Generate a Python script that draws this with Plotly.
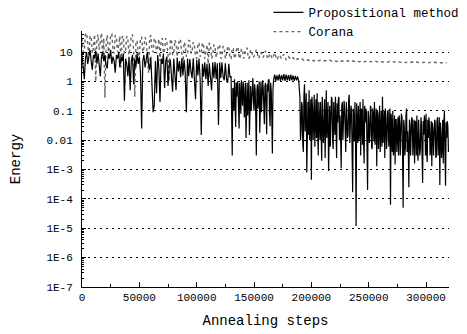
import plotly.graph_objects as go

# ---------------- data ----------------
# Propositional method
# part 1: every 1000 steps, 0 .. 130000
prop_energy_a = [
    8, 3, 1.2, 6, 10, 4, 7, 12, 5, 2.5,
    8, 6, 11, 4, 9, 3, 1.5, 7, 10, 5,
    8, 3.5, 2.8, 9, 6, 12, 4, 7, 5, 2,
    8, 6, 10, 3, 7, 5, 9, 0.22, 6, 4,
    1.5, 7, 0.5, 5, 8, 0.8, 6, 3, 9, 4,
    7, 2, 0.025, 5, 8, 3, 6, 10, 4, 2.5,
    7, 0.3, 0.09, 0.15, 5, 0.4, 8, 3, 0.2, 6,
    4, 9, 0.6, 5, 7, 0.7,
    3.5, 5.5, 1.8, 0.45, 6, 1.5, 0.5, 6.5, 2.2, 5,
    1.4, 6, 1.6, 5.5, 2, 0.09, 6, 1.5, 5.8, 2.2,
    1.3, 6.2, 1.8, 0.25, 5.5, 1.6, 6, 1.2, 0.015, 4,
    1.5, 4.5, 1.2, 4, 0.7, 4.2, 1.4, 0.5, 4.5, 1.3,
    4.6, 1.2, 4.2, 0.033, 4.4, 1.3, 4.5, 1.5, 1.1, 4.2,
    1.2, 0.9, 4, 1.4, 1.5,
]
# part 2: every 500 steps, 131000 .. 166500
prop_energy_b = [
    0.003, 0.6, 0.5, 0.1, 1.2, 0.2, 0.028, 0.9, 0.3, 1.0,
    0.8, 0.12, 0.025, 0.9, 0.4, 0.08, 1.1, 0.3, 0.15, 1.0,
    0.6, 0.06, 0.25, 0.9, 0.012, 0.5, 0.9, 0.07, 0.2, 1.1,
    0.015, 0.6, 0.7, 0.1, 0.35, 1.0, 1.3, 0.2, 0.1, 0.8,
    0.5, 0.07, 0.003, 0.5, 0.8, 0.12, 0.3, 1.0, 0.018, 0.4,
    1.0, 0.09, 0.2, 1.1, 0.6, 0.1, 0.035, 0.7, 0.9, 0.15,
    0.016, 0.8, 0.45, 1.1, 1.2, 0.08, 0.03, 0.9, 0.5, 0.06,
    0.0035, 0.5,
]
# part 3: every 1000 steps, 167000 .. 189000 (plateau)
prop_energy_c = [
    1.1, 1.7, 1.05, 1.6, 1.1, 1.75, 1.05, 1.65, 1.1, 1.8,
    1.05, 1.7, 1.1, 1.65, 1.05, 1.7, 1.1, 1.6, 1.05, 1.55,
    1.1, 1.5, 1.0,
]
# part 4: every 500 steps, 190000 .. 319500
prop_energy_d = [
    0.3, 0.01, 0.02, 0.2, 0.15, 0.008, 0.004, 0.3, 0.8, 0.02,
    0.05, 0.4, 0.0008, 0.06, 0.2, 0.015, 0.5, 0.01, 0.03, 0.25,
    0.00045, 0.3, 0.12, 0.01, 0.04, 0.35, 0.006, 0.15, 0.25, 0.012,
    0.4, 0.02, 0.003, 0.2, 0.08, 0.01, 0.2, 0.015, 0.002, 0.3,
    0.1, 0.008, 0.03, 0.25, 0.0025, 0.15, 0.5, 0.012, 0.06, 0.2,
    0.0009, 0.1, 0.15, 0.006, 0.02, 0.3, 0.25, 0.01, 0.005, 0.2,
    0.09, 0.015, 0.3, 0.007, 0.0025, 0.18, 0.04, 0.25, 0.3, 0.01,
    0.07, 0.012, 0.0011, 0.15, 0.2, 0.01, 0.03, 0.22, 0.12, 0.006,
    0.004, 0.2, 0.08, 0.012, 0.015, 0.25, 0.35, 0.008, 0.05, 0.15,
    0.1, 0.01, 0.00017, 0.12, 0.06, 0.009, 0.2, 0.01, 0.000012, 0.18,
    0.05, 0.008, 0.15, 0.01, 0.02, 0.2, 0.003, 0.12, 0.1, 0.007,
    0.25, 0.01, 0.0016, 0.15, 0.04, 0.12, 0.09, 0.006, 0.0002, 0.1,
    0.06, 0.008, 0.015, 0.15, 0.12, 0.006, 0.005, 0.12, 0.07, 0.009,
    0.2, 0.007, 0.03, 0.12, 0.0013, 0.1, 0.08, 0.005, 0.02, 0.15,
    0.004, 0.1, 0.1, 0.006, 0.3, 0.008, 0.025, 0.1, 0.0025, 0.12,
    0.06, 0.005, 0.012, 0.1, 0.09, 0.006, 0.03, 0.12, 0.000063, 0.08,
    0.04, 0.004, 0.1, 0.003, 0.006, 0.07, 0.0015, 0.05, 0.05, 0.004,
    0.015, 0.06, 0.003, 0.07, 0.04, 0.003, 0.01, 0.08, 0.06, 0.004,
    0.00005, 0.05, 0.03, 0.003, 0.006, 0.07, 0.12, 0.004, 0.02, 0.005,
    0.00025, 0.05, 0.035, 0.003, 0.008, 0.06, 0.05, 0.003, 0.015, 0.05,
    0.0016, 0.045, 0.04, 0.003, 0.07, 0.004, 0.002, 0.05, 0.02, 0.003,
    0.005, 0.06, 0.035, 0.003, 0.00035, 0.045, 0.015, 0.07, 0.04, 0.003,
    0.08, 0.004, 0.0018, 0.05, 0.012, 0.06, 0.03, 0.003, 0.005, 0.045,
    0.0013, 0.04, 0.025, 0.003, 0.01, 0.05, 0.04, 0.0025, 0.003, 0.045,
    0.06, 0.003, 0.012, 0.06, 0.0003, 0.04, 0.02, 0.0025, 0.006, 0.05,
    0.0016, 0.035, 0.1, 0.003, 0.00028, 0.04, 0.012, 0.045, 0.03, 0.004,
]
prop_steps = (
    list(range(0, 131000, 1000))
    + list(range(131000, 167000, 500))
    + list(range(167000, 190000, 1000))
    + list(range(190000, 320000, 500))
)
prop_energy = prop_energy_a + prop_energy_b + prop_energy_c + prop_energy_d

# Corana
# part 1: every 1000 steps, 0 .. 149000
corana_energy_a = [
    30, 10, 12, 40, 45, 15, 8, 35, 35, 9,
    15, 40, 1.0, 25, 40, 12, 20, 45, 6, 30,
    0.28, 20, 38, 10, 14, 40, 42, 12, 9, 38,
    30, 10, 18, 35, 3, 32, 36, 9, 11, 35,
    28, 8, 16, 36, 40, 12, 0.3, 20, 25, 9,
    7, 30, 33, 10, 14, 32, 24, 8, 2, 30,
    38, 12, 10, 30, 26, 9, 18, 28, 5, 25,
    30, 9, 12, 30, 22, 8, 1.0, 25, 28, 8,
    9, 26, 20, 7, 15, 28, 25, 8, 3, 22,
    18, 7, 8, 25, 24, 9, 11, 22, 16, 7,
    6, 20, 20, 7, 9, 21, 17, 6, 12, 18,
    4, 20, 19, 6, 8, 18, 15, 6.5, 10, 17,
    18, 6, 7, 16, 14, 6, 9, 15, 16, 6,
    6, 14, 13, 6, 8, 14, 15, 6, 7, 13,
    12, 6, 9, 13, 14, 6, 6.5, 12, 11, 6.5,
]
# part 2: every 2000 steps, 150000 .. 318000
corana_energy_b = [
    7, 12, 6, 10, 6.5,
    11, 5.8, 9, 6, 9.5, 5.5, 8, 6, 8.5, 5.4,
    7, 5.6, 6.5, 5.2, 6, 5.4, 5.8, 5.1, 5.5, 5.2,
    5.6, 5.0, 5.4, 5.1, 5.3, 4.9, 5.2, 5.0, 5.3, 4.9,
    5.1, 4.8, 5.2, 4.9, 5.0, 4.8, 5.1, 4.7, 5.0, 4.8,
    4.9, 4.7, 5.0, 4.7, 4.9, 4.6, 4.8, 4.7, 4.9, 4.6,
    4.8, 4.6, 4.7, 4.5, 4.8, 4.6, 4.7, 4.5, 4.7, 4.5,
    4.6, 4.4, 4.6, 4.5, 4.6, 4.4, 4.6, 4.4, 4.5, 4.4,
    4.5, 4.3, 4.5, 4.4, 4.5, 4.3, 4.4, 4.3, 4.4, 4.3,
]
corana_steps = list(range(0, 150000, 1000)) + list(range(150000, 320000, 2000))
corana_energy = corana_energy_a + corana_energy_b

y_tick_vals = [1e-7, 1e-6, 1e-5, 1e-4, 1e-3, 1e-2, 1e-1, 1, 10]
y_tick_text = ["1E-7", "1E-6", "1E-5", "1E-4", "1E-3", "0.01", "0.1", "1", "10"]
x_tick_vals = [0, 50000, 100000, 150000, 200000, 250000, 300000]

# minor tick positions on the log axis (2..9 in each decade)
y_minor = [m * 10 ** e for e in range(-7, 2) for m in range(2, 10)]

MONO = "Liberation Mono"

fig = go.Figure()
fig.add_trace(go.Scatter(
    x=corana_steps, y=corana_energy, mode="lines", name="Corana",
    line=dict(color="#666666", width=1.4, dash="dot"), legendrank=2,
))
fig.add_trace(go.Scatter(
    x=prop_steps, y=prop_energy, mode="lines", name="Propositional method",
    line=dict(color="#000000", width=1.2), legendrank=1,
))

# the page body adds an 8px offset, so the figure is 8px smaller
fig.update_layout(
    width=459, height=326,
    margin=dict(l=74, r=18, t=23, b=47, autoexpand=False),
    paper_bgcolor="white", plot_bgcolor="white",
    font=dict(family=MONO, color="black", size=11),
    showlegend=True,
    legend=dict(
        x=0.508, y=1.13, xanchor="left", yanchor="top",
        bgcolor="rgba(0,0,0,0)", font=dict(family=MONO, size=12.5),
        itemwidth=30, tracegroupgap=0,
    ),
)
fig.update_xaxes(
    range=[0, 320000], tickvals=x_tick_vals,
    ticktext=[str(v) for v in x_tick_vals],
    ticks="inside", ticklen=5, tickcolor="black",
    minor=dict(ticks="inside", ticklen=3, dtick=25000, tick0=0, tickcolor="black"),
    showline=True, linecolor="black", linewidth=1,
    showgrid=False, zeroline=False,
    tickfont=dict(family=MONO, size=11),
    title=dict(text="Annealing steps", font=dict(family=MONO, size=14), standoff=11),
)
fig.update_yaxes(
    type="log", range=[-7, 1.72],
    tickvals=y_tick_vals, ticktext=y_tick_text,
    ticks="inside", ticklen=4, tickcolor="black",
    minor=dict(ticks="inside", ticklen=2, tickvals=y_minor, tickcolor="black", showgrid=False),
    showline=True, linecolor="black", linewidth=1,
    showgrid=True, gridcolor="black", gridwidth=1, griddash="2px,4px",
    zeroline=False,
    tickfont=dict(family=MONO, size=11),
    ticklabelstandoff=6,
    title=dict(text="Energy", font=dict(family=MONO, size=14), standoff=24),
)

fig.write_html("out.html")
